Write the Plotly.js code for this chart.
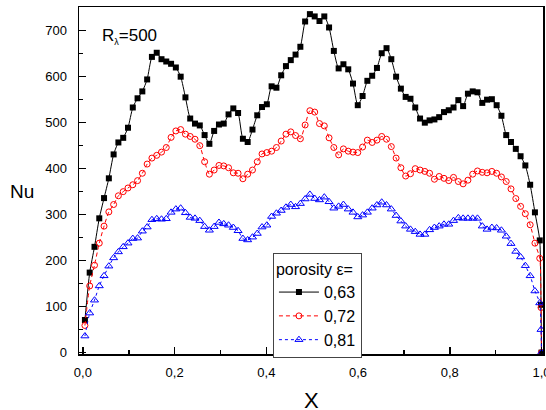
<!DOCTYPE html>
<html>
<head>
<meta charset="utf-8">
<script src="https://cdn.plot.ly/plotly-3.0.1.min.js"></script>
<style>
  html, body { margin: 0; padding: 0; background: #fff; }
  #chart { width: 546px; height: 410px; }
</style>
</head>
<body>
<div id="chart"></div>
<script>
// Shared X positions of the data points
const X = [
  0.0044, 0.0148, 0.0253, 0.0357, 0.0461, 0.0566, 0.0670, 0.0774, 0.0879, 0.0983,
  0.1088, 0.1192, 0.1296, 0.1401, 0.1505, 0.1610, 0.1714, 0.1818, 0.1923, 0.2027,
  0.2132, 0.2236, 0.2340, 0.2445, 0.2549, 0.2654, 0.2758, 0.2862, 0.2967, 0.3071,
  0.3176, 0.3280, 0.3384, 0.3489, 0.3593, 0.3698, 0.3802, 0.3906, 0.4011, 0.4115,
  0.4220, 0.4324, 0.4428, 0.4533, 0.4637, 0.4742, 0.4846, 0.4950, 0.5055, 0.5159,
  0.5264, 0.5368, 0.5472, 0.5577, 0.5681, 0.5786, 0.5890, 0.5994, 0.6099, 0.6203,
  0.6308, 0.6412, 0.6516, 0.6621, 0.6725, 0.6830, 0.6934, 0.7038, 0.7143, 0.7247,
  0.7352, 0.7456, 0.7560, 0.7665, 0.7769, 0.7874, 0.7978, 0.8082, 0.8187, 0.8291,
  0.8396, 0.8500, 0.8604, 0.8709, 0.8813, 0.8918, 0.9022, 0.9126, 0.9231, 0.9335,
  0.9440, 0.9544, 0.9648, 0.9753, 0.9857, 0.9962, 0.9990, 1.0000
];

// Nu, porosity 0.63
const nu063 = [
  71, 174, 230, 292, 336, 379, 431, 457, 467, 489,
  533, 553, 568, 594, 643, 652, 638, 633, 628, 620,
  600, 555, 509, 498, 494, 473, 454, 482, 496, 498,
  518, 531, 521, 465, 458, 485, 516, 534, 540, 579,
  576, 603, 623, 636, 648, 665, 720, 736, 731, 721,
  731, 707, 656, 618, 627, 616, 585, 538, 558, 591,
  602, 619, 651, 662, 638, 600, 574, 556, 552, 533,
  509, 500, 505, 507, 512, 523, 527, 533, 549, 536,
  563, 568, 566, 543, 550, 551, 538, 515, 473, 458,
  443, 427, 407, 365, 305, 244, 104, 0
];

// Nu, porosity 0.72
const nu072 = [
  59, 145, 190, 238, 275, 306, 322, 341, 350, 358,
  365, 374, 390, 410, 423, 429, 436, 446, 468, 482,
  485, 475, 470, 464, 450, 415, 388, 397, 407, 406,
  402, 391, 390, 378, 388, 397, 415, 432, 435, 438,
  446, 460, 475, 480, 472, 465, 495, 526, 523, 498,
  493, 467, 446, 430, 443, 438, 436, 435, 447, 462,
  457, 462, 470, 464, 448, 423, 402, 384, 389, 400,
  397, 394, 390, 377, 383, 379, 374, 381, 372, 367,
  375, 388, 395, 392, 391, 394, 390, 382, 372, 356,
  335, 318, 302, 278, 238, 205, 98, 0
];

// Nu, porosity 0.81
const nu081 = [
  36, 86, 114, 145, 167, 188, 206, 219, 230, 238,
  248, 249, 264, 273, 289, 291, 290, 291, 305, 312,
  314, 304, 294, 292, 287, 274, 266, 274, 283, 280,
  277, 272, 265, 248, 245, 251, 259, 273, 277, 296,
  303, 309, 316, 322, 317, 324, 334, 344, 335, 332,
  338, 328, 314, 318, 322, 312, 305, 295, 299, 305,
  314, 321, 327, 321, 312, 298, 286, 275, 268, 263,
  257, 257, 267, 272, 275, 279, 279, 287, 293, 292,
  292, 292, 292, 275, 268, 272, 271, 266, 253, 237,
  220, 208, 189, 167, 134, 108, 50, 0
];

const seriesNames = ['0,63', '0,72', '0,81'];
const xTicks = [0, 0.2, 0.4, 0.6, 0.8, 1.0];
const yTicks = [0, 100, 200, 300, 400, 500, 600, 700];

const FONT = 'Arial, "Liberation Sans", sans-serif';

const traces = [
  {
    x: X, y: nu063, name: seriesNames[0], type: 'scatter', mode: 'lines+markers',
    line: {color: '#000000', width: 1, shape: 'spline', smoothing: 0.6},
    marker: {symbol: 'square', size: 6, color: '#000000'}
  },
  {
    x: X, y: nu072, name: seriesNames[1], type: 'scatter', mode: 'lines+markers',
    line: {color: '#ff0000', width: 1, dash: '4px,3px', shape: 'spline', smoothing: 0.6},
    marker: {symbol: 'circle-open', size: 6, color: '#ff0000', line: {width: 1, color: '#ff0000'}}
  },
  {
    x: X, y: nu081, name: seriesNames[2], type: 'scatter', mode: 'lines+markers',
    line: {color: '#0000ff', width: 1, dash: 'dot', shape: 'spline', smoothing: 0.6},
    marker: {symbol: 'triangle-up-open', size: 7, color: '#0000ff', line: {width: 1, color: '#0000ff'}}
  }
];

const layout = {
  width: 546, height: 410,
  margin: {l: 79, r: 3, t: 7, b: 56, pad: 0},
  paper_bgcolor: '#ffffff', plot_bgcolor: '#ffffff',
  separators: ',.',
  font: {family: FONT, size: 13, color: '#000000'},
  showlegend: true,
  hovermode: false,
  xaxis: {
    range: [-0.0085, 1.0033],
    tickvals: xTicks, tickformat: '.1f',
    ticks: 'inside', ticklen: 7, tickwidth: 1.5, tickcolor: '#000',
    minor: {dtick: 0.1, ticks: 'inside', ticklen: 4, tickwidth: 1.5, tickcolor: '#000', showgrid: false},
    showline: true, linecolor: '#000', linewidth: 1.5, mirror: true,
    showgrid: false, zeroline: false,
    ticklabelstandoff: 6,
    ticklabeloverflow: 'allow',
    tickfont: {family: FONT, size: 13, color: '#000'}
  },
  yaxis: {
    range: [-3, 751.5],
    tickvals: yTicks,
    ticks: 'inside', ticklen: 7, tickwidth: 1.5, tickcolor: '#000',
    minor: {dtick: 50, ticks: 'inside', ticklen: 4, tickwidth: 1.5, tickcolor: '#000', showgrid: false},
    showline: true, linecolor: '#000', linewidth: 1.5, mirror: true,
    showgrid: false, zeroline: false,
    ticklabelstandoff: 8,
    tickfont: {family: FONT, size: 13, color: '#000'}
  },
  legend: {
    x: 0.418, y: 0.29, xanchor: 'left', yanchor: 'top',
    bgcolor: '#ffffff', bordercolor: '#444444', borderwidth: 1,
    font: {family: FONT, size: 16, color: '#000'},
    title: {text: 'porosity ε=', font: {family: FONT, size: 16, color: '#000'}},
    itemwidth: 40, tracegroupgap: 0
  },
  annotations: [
    {
      text: 'R<sub><span style="font-size:9px">λ</span></sub>=500',
      xref: 'paper', yref: 'paper', x: 0.046, y: 0.916,
      xanchor: 'left', yanchor: 'middle', showarrow: false,
      font: {family: FONT, size: 17, color: '#000'}
    },
    {
      text: 'Nu', xref: 'paper', yref: 'paper', x: -0.122, y: 0.467,
      xanchor: 'center', yanchor: 'middle', showarrow: false,
      font: {family: FONT, size: 19, color: '#000'}
    },
    {
      text: 'X', xref: 'paper', yref: 'paper', x: 0.5, y: -0.135,
      xanchor: 'center', yanchor: 'middle', showarrow: false,
      font: {family: FONT, size: 22, color: '#000'}
    }
  ]
};

Plotly.newPlot('chart', traces, layout, {displayModeBar: false, staticPlot: true});
</script>
</body>
</html>
